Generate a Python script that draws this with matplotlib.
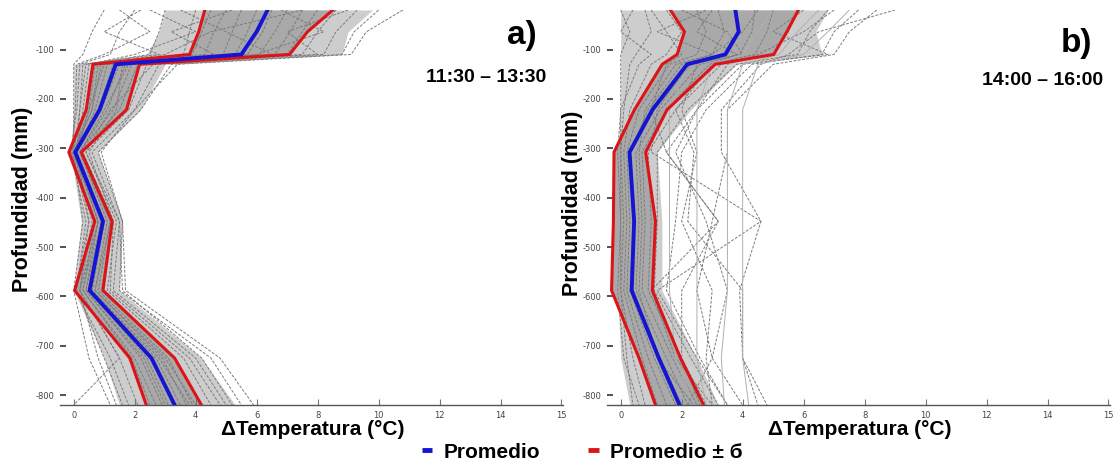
import matplotlib
matplotlib.use("Agg")
import matplotlib.pyplot as plt
from matplotlib.lines import Line2D

# ---------------- data ----------------
depth = [-20, -64, -110, -130, -222, -308, -448, -588, -725, -820]

# panel a) 11:30 - 13:30
mean_a = [6.36, 6.0, 5.5, 1.38, 0.85, 0.05, 0.96, 0.52, 2.55, 3.31]
lo_a = [4.3, 4.1, 3.8, 0.63, 0.41, -0.16, 0.69, 0.03, 1.84, 2.38]
hi_a = [8.5, 7.67, 7.08, 2.16, 1.73, 0.25, 1.26, 0.96, 3.31, 4.19]
env_lo_a = [3.0, 2.8, 2.4, 0.0, 0.0, -0.1, 0.25, 0.0, 1.0, 1.5]
env_hi_a = [9.8, 9.0, 8.8, 3.0, 2.2, 0.8, 1.6, 1.5, 4.2, 5.3]
gray_a = [
    [1.0, 0.6, 0.3, 0.0, 0.0, 0.0, 0.3, 0.0, 0.5, 1.2],
    [2.0, 1.5, 1.2, 0.2, 0.1, -0.1, 0.4, 0.1, 1.0, 1.6],
    [3.0, 2.8, 2.5, 0.4, 0.2, 0.0, 0.6, 0.2, 1.5, 2.1],
    [4.0, 3.8, 3.6, 0.6, 0.4, -0.1, 0.7, 0.3, 1.9, 2.5],
    [5.0, 4.6, 4.3, 0.9, 0.6, 0.0, 0.8, 0.4, 2.2, 2.9],
    [5.5, 5.2, 4.9, 1.1, 0.7, 0.1, 0.9, 0.5, 2.4, 3.1],
    [6.0, 5.7, 5.3, 1.3, 0.8, 0.0, 1.0, 0.5, 2.6, 3.3],
    [6.5, 6.2, 5.7, 1.5, 0.9, 0.1, 1.0, 0.6, 2.7, 3.5],
    [7.0, 6.6, 6.1, 1.7, 1.1, 0.2, 1.1, 0.7, 2.9, 3.7],
    [7.5, 7.1, 6.6, 1.9, 1.3, 0.2, 1.2, 0.8, 3.1, 3.9],
    [8.0, 7.5, 7.0, 2.1, 1.5, 0.3, 1.3, 0.9, 3.3, 4.2],
    [8.6, 8.0, 7.5, 2.4, 1.8, 0.4, 1.4, 1.1, 3.6, 4.5],
    [9.3, 8.6, 8.2, 2.8, 2.0, 0.6, 1.5, 1.3, 4.0, 5.0],
    [10.0, 9.2, 8.8, 3.2, 2.2, 0.8, 1.6, 1.5, 4.5, 5.5],
    [10.8, 9.6, 9.1, 3.4, 2.0, 0.9, 1.6, 1.7, 4.8, 5.9],
    [3.5, 5.0, 6.5, 1.0, 0.5, 0.1, 0.8, 0.3, 2.0, 2.7],
    [7.5, 4.5, 3.0, 0.8, 0.6, 0.0, 0.9, 0.4, 2.3, 3.0],
    [2.5, 4.0, 2.0, 0.5, 0.3, 0.1, 1.0, 0.6, 2.8, 3.8],
    [9.0, 7.0, 8.0, 1.8, 1.0, 0.2, 1.2, 0.7, 3.0, 4.0],
    [1.5, 2.5, 1.0, 0.1, 0.05, -0.05, 0.5, 0.05, 1.2, 1.8],
    [4.5, 4.2, 3.9, 0.7, 0.5, 0.0, 0.8, 0.2, 1.5, 0.0],
    [6.8, 8.2, 6.0, 2.6, 1.2, 0.4, 1.5, 1.6, 4.2, 5.2],
    [2.2, 1.0, 2.8, 0.3, 0.2, 0.1, 0.5, 0.2, 0.8, 1.4],
    [5.2, 3.2, 4.6, 1.6, 1.4, 0.5, 1.3, 1.2, 3.8, 4.8],
]

# panel b) 14:00 - 16:00
mean_b = [3.76, 3.87, 3.43, 2.18, 1.04, 0.29, 0.44, 0.36, 1.25, 1.93]
lo_b = [1.63, 2.09, 1.85, 1.36, 0.45, -0.22, -0.24, -0.3, 0.6, 1.14]
hi_b = [5.83, 5.45, 5.02, 3.1, 1.52, 0.82, 1.14, 1.04, 1.96, 2.72]
env_lo_b = [0.0, 0.0, 0.0, 0.0, 0.0, -0.1, -0.1, -0.1, 0.0, 0.3]
env_hi_b = [6.8, 6.4, 6.6, 3.8, 2.3, 1.2, 1.35, 1.35, 2.5, 3.2]
gray_b = [
    [0.0, 0.3, 0.0, 0.0, 0.0, 0.0, 0.0, 0.0, 0.2, 0.4],
    [0.8, 1.0, 0.5, 0.3, 0.1, 0.0, 0.1, 0.0, 0.4, 0.8],
    [1.5, 2.0, 1.5, 1.0, 0.3, 0.1, 0.2, 0.1, 0.7, 1.2],
    [2.5, 2.8, 2.5, 1.6, 0.6, 0.2, 0.3, 0.2, 0.9, 1.5],
    [3.2, 3.4, 3.0, 2.0, 0.9, 0.3, 0.4, 0.3, 1.1, 1.8],
    [3.8, 3.9, 3.5, 2.3, 1.1, 0.3, 0.4, 0.4, 1.3, 2.0],
    [4.4, 4.3, 3.9, 2.6, 1.3, 0.5, 0.6, 0.5, 1.5, 2.2],
    [5.0, 4.8, 4.4, 2.9, 1.5, 0.7, 0.8, 0.7, 1.7, 2.5],
    [5.8, 5.5, 5.0, 3.3, 1.8, 0.9, 1.0, 0.9, 2.0, 2.8],
    [6.8, 6.2, 5.8, 3.8, 2.2, 1.2, 1.2, 1.1, 2.3, 3.2],
    [7.8, 7.0, 6.6, 4.3, 2.8, 2.0, 1.8, 1.5, 2.6, 3.5],
    [8.4, 7.5, 7.0, 5.0, 3.5, 3.5, 3.0, 2.5, 3.0, 4.0],
    [9.0, 6.5, 5.5, 4.6, 3.3, 3.3, 4.6, 3.9, 4.0, 4.8],
    [6.0, 5.0, 6.8, 4.0, 2.5, 1.5, 3.2, 1.0, 1.8, 3.0],
    [2.0, 3.5, 4.0, 2.2, 1.2, 1.0, 4.6, 1.2, 2.5, 3.5],
    [4.5, 4.0, 3.0, 2.5, 2.0, 2.5, 2.0, 3.0, 2.8, 3.0],
    [1.0, 1.5, 2.0, 1.5, 1.0, 1.5, 3.2, 2.0, 2.0, 2.6],
    [3.0, 2.5, 3.8, 3.0, 1.8, 2.4, 2.2, 4.0, 4.0, 4.5],
    [7.0, 6.0, 4.5, 3.5, 2.5, 1.8, 2.8, 3.5, 3.0, 2.2],
    [0.4, 0.0, 1.0, 0.6, 0.0, -0.1, 0.0, -0.1, 0.1, 0.6],
    [2.8, 1.2, 3.0, 1.8, 0.8, 0.6, 0.7, 0.6, 1.2, 2.4],
]
gray_b_solid = [
    [4.0, 3.6, 3.2, 2.2, 1.6, 1.6, 1.6, 1.6, 1.8, 2.4],
    [5.0, 4.5, 4.0, 3.0, 2.5, 2.5, 2.5, 2.5, 2.5, 2.8],
    [6.5, 5.8, 5.2, 4.0, 3.5, 3.5, 3.5, 3.5, 3.3, 3.4],
    [7.5, 6.8, 6.0, 4.5, 4.0, 4.0, 4.0, 4.0, 4.0, 4.2],
]

xticks = [0, 2, 4, 6, 8, 10, 12, 14, 16]
xtick_labels = ["0", "2", "4", "6", "8", "10", "12", "14", "15"]
yticks = [-100, -200, -300, -400, -500, -600, -700, -800]
ytick_labels = ["-100", "-200", "-300", "-400", "-500", "-600", "-700", "-800"]

panel_tags = ["a)", "b)"]
panel_times = ["11:30 \u2013 13:30", "14:00 \u2013 16:00"]
xlabel = "\u0394Temperatura (\u00b0C)"
ylabel = "Profundidad (mm)"
legend_labels = ["Promedio", "Promedio \u00b1 \u0431"]

# ---------------- style ----------------
W, H = 1115, 463
BLUE = "#1414d2"
RED = "#dc1418"
GRAY = "#7c7c7c"
FONT = ["Liberation Sans", "DejaVu Sans"]

fig = plt.figure(figsize=(W / 100, H / 100), dpi=100)
ax_a = fig.add_axes([60 / W, 58 / H, 503 / W, 395 / H])
ax_b = fig.add_axes([607 / W, 58 / H, 503 / W, 395 / H])

panels = [
    (ax_a, mean_a, lo_a, hi_a, env_lo_a, env_hi_a, gray_a, []),
    (ax_b, mean_b, lo_b, hi_b, env_lo_b, env_hi_b, gray_b, gray_b_solid),
]

for ax, mean, lo, hi, elo, ehi, gray, gray_solid in panels:
    ax.fill_betweenx(depth, elo, ehi, color="#cdcdcd", lw=0, zorder=1)
    ax.fill_betweenx(depth, lo, hi, color="#a9a9a9", lw=0, zorder=1)
    for prof in gray:
        ax.plot(prof, depth, color=GRAY, lw=0.7, ls=(0, (3, 1.5)), zorder=2)
    for prof in gray_solid:
        ax.plot(prof, depth, color="#b0b0b0", lw=0.7, zorder=2)
    ax.plot(lo, depth, color=RED, lw=2.2, zorder=4, solid_joinstyle="miter")
    ax.plot(hi, depth, color=RED, lw=2.2, zorder=4, solid_joinstyle="miter")
    ax.plot(mean, depth, color=BLUE, lw=2.8, zorder=5, solid_joinstyle="miter")

    ax.set_xlim(-0.45, 16.05)
    ax.set_ylim(-820, -20)
    for s in ["left", "top", "right"]:
        ax.spines[s].set_visible(False)
    ax.spines["bottom"].set_color("#555555")
    ax.spines["bottom"].set_linewidth(1.0)

    ax.set_xticks(xticks)
    ax.set_xticklabels(xtick_labels)
    ax.set_yticks(yticks)
    ax.set_yticklabels(ytick_labels)
    ax.tick_params(axis="x", direction="in", length=4, width=0.8, color="#777777",
                   pad=4, labelsize=6, labelcolor="#444444")
    ax.tick_params(axis="y", direction="in", length=4, width=1.2, color="#333333",
                   pad=4, labelsize=6, labelcolor="#444444")

    ax.set_xlabel(xlabel, fontsize=15, fontweight="bold", family=FONT, va="baseline")
    ax.xaxis.set_label_coords(0.502, -0.076)
    ax.set_ylabel(ylabel, fontsize=15.5, fontweight="bold", family=FONT, va="center")

ax_a.yaxis.set_label_coords(-0.075, 0.52)
ax_b.yaxis.set_label_coords(-0.068, 0.51)

fig.text(537 / W, 1 - 44 / H, panel_tags[0], fontsize=24, fontweight="bold",
         family=FONT, ha="right", va="baseline")
fig.text(1092 / W, 1 - 52 / H, panel_tags[1], fontsize=24, fontweight="bold",
         family=FONT, ha="right", va="baseline")
fig.text(546 / W, 1 - 82 / H, panel_times[0], fontsize=14, fontweight="bold",
         family=FONT, ha="right", va="baseline")
fig.text(1103 / W, 1 - 85 / H, panel_times[1], fontsize=14, fontweight="bold",
         family=FONT, ha="right", va="baseline")

handles = [Line2D([], [], color=BLUE, lw=3.5, solid_capstyle="butt"),
           Line2D([], [], color=RED, lw=3.5, solid_capstyle="butt")]
fig.legend(handles, legend_labels, loc="center left", bbox_to_anchor=(422 / W, 1 - 452 / H),
           ncol=2, frameon=False, handlelength=0.5, handletextpad=0.55,
           columnspacing=2.3, borderpad=0, borderaxespad=0,
           prop={"family": FONT, "weight": "bold", "size": 15})

fig.savefig("out.png", dpi=100)
